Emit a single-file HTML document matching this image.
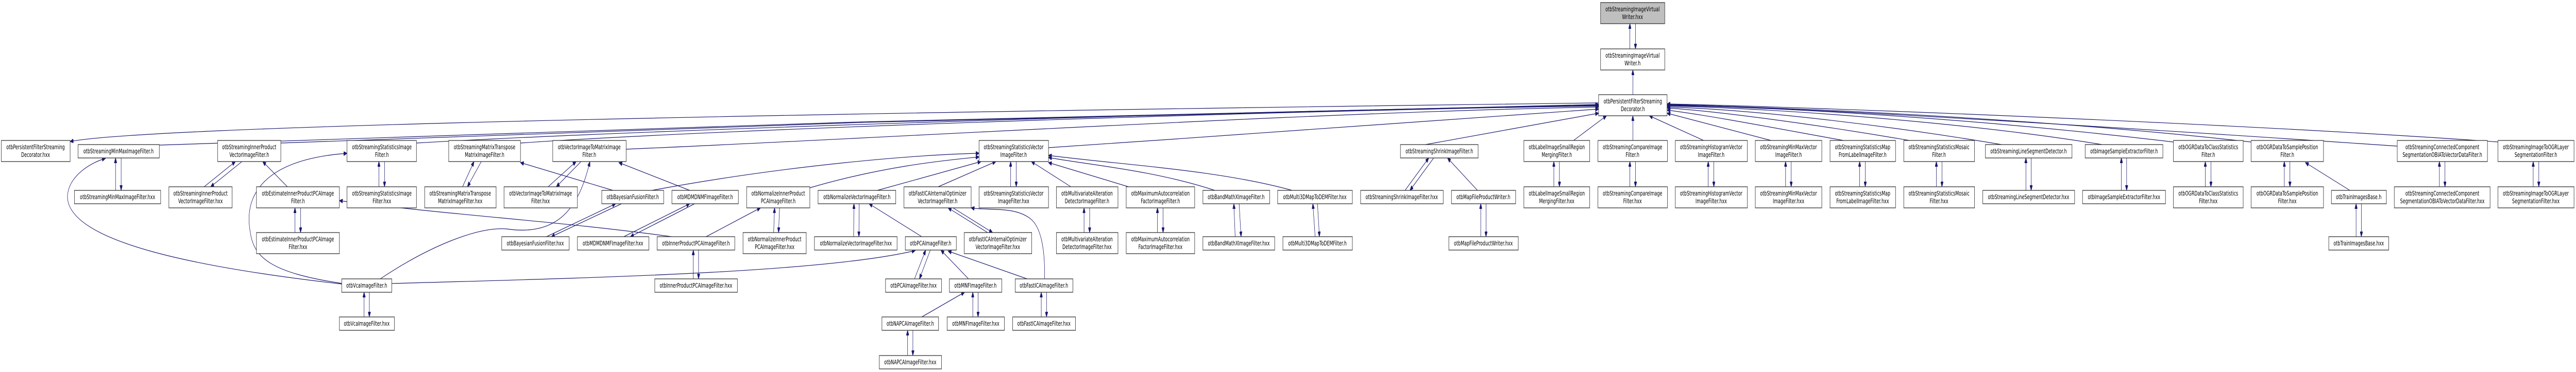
<!DOCTYPE html>
<html><head><meta charset="utf-8"><style>
html,body{margin:0;padding:0;background:#fff;overflow:hidden;width:100%;height:100%;}
svg{display:block;width:100vw;height:100vh;}
text{font-family:"DejaVu Sans","Liberation Sans",sans-serif;font-size:12.5px;fill:#000;text-anchor:middle;}
rect{fill:#fff;stroke:#333;stroke-width:1.3;}
rect.root{fill:#bfbfbf;}
path{fill:none;stroke:#191970;stroke-width:1.2;}
</style></head><body>
<svg viewBox="0 0 7825 723" preserveAspectRatio="none" xmlns="http://www.w3.org/2000/svg">
<defs><marker id="a" markerUnits="userSpaceOnUse" markerWidth="11" markerHeight="8" refX="10" refY="4" orient="auto"><path d="M0,0 L10,4 L0,8 z" style="fill:#191970;stroke:#191970"/></marker></defs>
<g marker-end="url(#a)">
<path d="M4951,95 L4951,46"/><path d="M4968,46 L4968,95"/>
<path d="M4960,184 L4960,136"/>
<path d="M351,370 L351,307"/><path d="M368,307 L368,370"/>
<path d="M620,363 L715,314"/><path d="M735,314 L640,363"/>
<path d="M1151,363 L1151,314"/><path d="M1168,314 L1168,363"/>
<path d="M1405,363 L1440,314"/><path d="M1462,314 L1420,363"/>
<path d="M1665,363 L1750,314"/><path d="M1765,314 L1690,363"/>
<path d="M896,452 L896,404"/><path d="M913,404 L913,452"/>
<path d="M1660,460 L1870,396"/><path d="M1888,396 L1675,460"/>
<path d="M1895,460 L2095,396"/><path d="M2110,396 L1915,460"/>
<path d="M2350,452 L2353,404"/><path d="M2368,404 L2365,452"/>
<path d="M2593,460 L2594,396"/><path d="M2610,396 L2609,460"/>
<path d="M3000,452 L2880,404"/><path d="M2895,404 L3015,452"/>
<path d="M3070,363 L3070,314"/><path d="M3087,314 L3087,363"/>
<path d="M3293,452 L3293,404"/><path d="M3310,404 L3310,452"/>
<path d="M3516,452 L3516,404"/><path d="M3533,404 L3533,452"/>
<path d="M3752,460 L3748,396"/><path d="M3764,396 L3770,460"/>
<path d="M3995,460 L3988,396"/><path d="M4002,396 L4008,460"/>
<path d="M4268,370 L4340,307"/><path d="M4355,307 L4283,370"/>
<path d="M4498,460 L4498,396"/><path d="M4514,396 L4514,460"/>
<path d="M2778,542 L2812,486"/><path d="M2826,486 L2793,542"/>
<path d="M2955,616 L2955,568"/><path d="M2971,568 L2971,616"/>
<path d="M3163,616 L3163,568"/><path d="M3179,568 L3179,616"/>
<path d="M1106,616 L1106,568"/><path d="M1122,568 L1122,616"/>
<path d="M2106,542 L2106,486"/><path d="M2122,486 L2122,542"/>
<path d="M2757,691 L2757,642"/><path d="M2773,642 L2773,691"/>
<path d="M4720,363 L4720,314"/><path d="M4737,314 L4737,363"/>
<path d="M4951,363 L4951,314"/><path d="M4968,314 L4968,363"/>
<path d="M5189,363 L5189,314"/><path d="M5206,314 L5206,363"/>
<path d="M5424,363 L5424,314"/><path d="M5441,314 L5441,363"/>
<path d="M5649,363 L5649,314"/><path d="M5666,314 L5666,363"/>
<path d="M5882,363 L5882,314"/><path d="M5899,314 L5899,363"/>
<path d="M6154,370 L6154,307"/><path d="M6170,307 L6170,370"/>
<path d="M6444,370 L6444,307"/><path d="M6460,307 L6460,370"/>
<path d="M6699,363 L6699,314"/><path d="M6716,314 L6716,363"/>
<path d="M6939,363 L6939,314"/><path d="M6956,314 L6956,363"/>
<path d="M7410,363 L7410,314"/><path d="M7427,314 L7427,363"/>
<path d="M7695,363 L7695,314"/><path d="M7712,314 L7712,363"/>
<path d="M7157,460 L7157,396"/><path d="M7173,396 L7173,460"/>
<path d="M4856,200 C3000,215 500,240 213,275"/>
<path d="M484,282 C1500,250 4000,215 4856,203"/>
<path d="M853,278 C2000,245 4000,212 4856,204"/>
<path d="M1265,278 C2000,250 4000,212 4856,205"/>
<path d="M1581,278 C2200,250 4000,213 4856,206"/>
<path d="M1902,290 C2800,265 4000,218 4856,208"/>
<path d="M3185,287 C3800,260 4500,230 4856,212"/>
<path d="M4330,281 L4856,220"/>
<path d="M4780,273 L4880,225"/>
<path d="M4960,273 L4960,225"/>
<path d="M5175,273 L5010,225"/>
<path d="M5380,273 L5064,220"/>
<path d="M5600,273 C5400,250 5200,225 5064,214"/>
<path d="M5800,273 C5500,240 5200,215 5064,210"/>
<path d="M6080,281 C5700,240 5300,212 5064,208"/>
<path d="M6385,281 C6000,240 5400,210 5064,206"/>
<path d="M6602,276 C6000,230 5400,208 5064,205"/>
<path d="M6838,276 C6200,230 5400,207 5064,204"/>
<path d="M7282,284 C6500,250 5500,210 5064,203"/>
<path d="M7590,276 C6800,240 5500,208 5064,202"/>
<path d="M1038,552 C600,520 200,470 205,380 C210,340 280,315 320,308"/>
<path d="M1040,551 C820,530 770,500 760,450 C740,380 800,310 1054,298"/>
<path d="M1155,542 C1300,480 1450,440 1540,445 C1700,460 1760,400 1792,314"/>
<path d="M1190,551 C1800,540 2500,530 2780,487"/>
<path d="M2040,460 C1700,430 1400,420 1031,390"/>
<path d="M2145,460 L2310,404"/>
<path d="M873,363 L798,314"/>
<path d="M1862,370 L1581,316"/>
<path d="M1980,370 C2400,320 2800,300 2974,298"/>
<path d="M2095,370 L1880,316"/>
<path d="M2460,365 C2700,320 2900,310 2974,305"/>
<path d="M2665,370 L2980,314"/>
<path d="M2850,363 L3025,314"/>
<path d="M2800,460 L2640,396"/>
<path d="M2942,542 L2858,486"/>
<path d="M3120,542 L2880,488"/>
<path d="M3173,542 C3175,480 3160,440 3130,425 C3080,400 3000,410 2950,404"/>
<path d="M2800,616 L2930,568"/>
<path d="M3253,363 L3133,314"/>
<path d="M3428,363 L3185,316"/>
<path d="M3690,370 C3500,330 3300,320 3185,306"/>
<path d="M3925,370 C3700,330 3400,320 3185,302"/>
<path d="M4488,370 L4397,307"/>
<path d="M7138,370 L7003,316"/>
</g>

<rect class="root" x="4862" y="5" width="195" height="41"/><text x="4959" y="22">otbStreamingImageVirtual</text><text x="4959" y="37">Writer.hxx</text>
<rect x="4862" y="95" width="195" height="41"/><text x="4959" y="112">otbStreamingImageVirtual</text><text x="4959" y="127">Writer.h</text>
<rect x="4856" y="184" width="208" height="41"/><text x="4960" y="201">otbPersistentFilterStreaming</text><text x="4960" y="216">Decorator.h</text>

<rect x="4" y="273" width="209" height="41"/><text x="108" y="290">otbPersistentFilterStreaming</text><text x="108" y="305">Decorator.hxx</text>
<rect x="237" y="281" width="247" height="26"/><text x="360" y="298">otbStreamingMinMaxImageFilter.h</text>
<rect x="661" y="273" width="192" height="41"/><text x="757" y="290">otbStreamingInnerProduct</text><text x="757" y="305">VectorImageFilter.h</text>
<rect x="1054" y="273" width="211" height="41"/><text x="1160" y="290">otbStreamingStatisticsImage</text><text x="1160" y="305">Filter.h</text>
<rect x="1363" y="273" width="218" height="41"/><text x="1472" y="290">otbStreamingMatrixTranspose</text><text x="1472" y="305">MatrixImageFilter.h</text>
<rect x="1679" y="273" width="223" height="41"/><text x="1790" y="290">otbVectorImageToMatrixImage</text><text x="1790" y="305">Filter.h</text>
<rect x="2974" y="273" width="211" height="41"/><text x="3079" y="290">otbStreamingStatisticsVector</text><text x="3079" y="305">ImageFilter.h</text>
<rect x="4254" y="281" width="236" height="26"/><text x="4372" y="298">otbStreamingShrinkImageFilter.h</text>
<rect x="4629" y="273" width="200" height="41"/><text x="4729" y="290">otbLabelImageSmallRegion</text><text x="4729" y="305">MergingFilter.h</text>
<rect x="4854" y="273" width="211" height="41"/><text x="4959" y="290">otbStreamingCompareImage</text><text x="4959" y="305">Filter.h</text>
<rect x="5089" y="273" width="219" height="41"/><text x="5198" y="290">otbStreamingHistogramVector</text><text x="5198" y="305">ImageFilter.h</text>
<rect x="5332" y="273" width="202" height="41"/><text x="5433" y="290">otbStreamingMinMaxVector</text><text x="5433" y="305">ImageFilter.h</text>
<rect x="5559" y="273" width="199" height="41"/><text x="5658" y="290">otbStreamingStatisticsMap</text><text x="5658" y="305">FromLabelImageFilter.h</text>
<rect x="5783" y="273" width="215" height="41"/><text x="5890" y="290">otbStreamingStatisticsMosaic</text><text x="5890" y="305">Filter.h</text>
<rect x="6031" y="281" width="263" height="26"/><text x="6162" y="298">otbStreamingLineSegmentDetector.h</text>
<rect x="6334" y="281" width="236" height="26"/><text x="6452" y="298">otbImageSampleExtractorFilter.h</text>
<rect x="6602" y="273" width="212" height="41"/><text x="6708" y="290">otbOGRDataToClassStatistics</text><text x="6708" y="305">Filter.h</text>
<rect x="6838" y="273" width="220" height="41"/><text x="6948" y="290">otbOGRDataToSamplePosition</text><text x="6948" y="305">Filter.h</text>
<rect x="7282" y="273" width="274" height="41"/><text x="7419" y="290">otbStreamingConnectedComponent</text><text x="7419" y="305">SegmentationOBIAToVectorDataFilter.h</text>
<rect x="7588" y="273" width="231" height="41"/><text x="7703" y="290">otbStreamingImageToOGRLayer</text><text x="7703" y="305">SegmentationFilter.h</text>

<rect x="226" y="370" width="262" height="26"/><text x="357" y="387">otbStreamingMinMaxImageFilter.hxx</text>
<rect x="513" y="363" width="192" height="41"/><text x="609" y="380">otbStreamingInnerProduct</text><text x="609" y="395">VectorImageFilter.hxx</text>
<rect x="779" y="363" width="252" height="41"/><text x="905" y="380">otbEstimateInnerProductPCAImage</text><text x="905" y="395">Filter.h</text>
<rect x="1054" y="363" width="211" height="41"/><text x="1160" y="380">otbStreamingStatisticsImage</text><text x="1160" y="395">Filter.hxx</text>
<rect x="1290" y="363" width="217" height="41"/><text x="1398" y="380">otbStreamingMatrixTranspose</text><text x="1398" y="395">MatrixImageFilter.hxx</text>
<rect x="1531" y="363" width="223" height="41"/><text x="1642" y="380">otbVectorImageToMatrixImage</text><text x="1642" y="395">Filter.hxx</text>
<rect x="1828" y="370" width="188" height="26"/><text x="1922" y="387">otbBayesianFusionFilter.h</text>
<rect x="2041" y="370" width="202" height="26"/><text x="2142" y="387">otbMDMDNMFImageFilter.h</text>
<rect x="2268" y="363" width="192" height="41"/><text x="2364" y="380">otbNormalizeInnerProduct</text><text x="2364" y="395">PCAImageFilter.h</text>
<rect x="2485" y="370" width="236" height="26"/><text x="2603" y="387">otbNormalizeVectorImageFilter.h</text>
<rect x="2746" y="363" width="204" height="41"/><text x="2848" y="380">otbFastICAInternalOptimizer</text><text x="2848" y="395">VectorImageFilter.h</text>
<rect x="2974" y="363" width="211" height="41"/><text x="3079" y="380">otbStreamingStatisticsVector</text><text x="3079" y="395">ImageFilter.hxx</text>
<rect x="3209" y="363" width="187" height="41"/><text x="3302" y="380">otbMultivariateAlteration</text><text x="3302" y="395">DetectorImageFilter.h</text>
<rect x="3421" y="363" width="208" height="41"/><text x="3525" y="380">otbMaximumAutocorrelation</text><text x="3525" y="395">FactorImageFilter.h</text>
<rect x="3654" y="370" width="203" height="26"/><text x="3755" y="387">otbBandMathXImageFilter.h</text>
<rect x="3881" y="370" width="227" height="26"/><text x="3994" y="387">otbMulti3DMapToDEMFilter.hxx</text>
<rect x="4133" y="370" width="251" height="26"/><text x="4258" y="387">otbStreamingShrinkImageFilter.hxx</text>
<rect x="4409" y="370" width="195" height="26"/><text x="4506" y="387">otbMapFileProductWriter.h</text>
<rect x="4629" y="363" width="200" height="41"/><text x="4729" y="380">otbLabelImageSmallRegion</text><text x="4729" y="395">MergingFilter.hxx</text>
<rect x="4854" y="363" width="211" height="41"/><text x="4959" y="380">otbStreamingCompareImage</text><text x="4959" y="395">Filter.hxx</text>
<rect x="5089" y="363" width="219" height="41"/><text x="5198" y="380">otbStreamingHistogramVector</text><text x="5198" y="395">ImageFilter.hxx</text>
<rect x="5332" y="363" width="202" height="41"/><text x="5433" y="380">otbStreamingMinMaxVector</text><text x="5433" y="395">ImageFilter.hxx</text>
<rect x="5559" y="363" width="199" height="41"/><text x="5658" y="380">otbStreamingStatisticsMap</text><text x="5658" y="395">FromLabelImageFilter.hxx</text>
<rect x="5783" y="363" width="215" height="41"/><text x="5890" y="380">otbStreamingStatisticsMosaic</text><text x="5890" y="395">Filter.hxx</text>
<rect x="6023" y="370" width="279" height="26"/><text x="6162" y="387">otbStreamingLineSegmentDetector.hxx</text>
<rect x="6326" y="370" width="252" height="26"/><text x="6452" y="387">otbImageSampleExtractorFilter.hxx</text>
<rect x="6602" y="363" width="212" height="41"/><text x="6708" y="380">otbOGRDataToClassStatistics</text><text x="6708" y="395">Filter.hxx</text>
<rect x="6838" y="363" width="220" height="41"/><text x="6948" y="380">otbOGRDataToSamplePosition</text><text x="6948" y="395">Filter.hxx</text>
<rect x="7082" y="370" width="167" height="26"/><text x="7165" y="387">otbTrainImagesBase.h</text>
<rect x="7273" y="363" width="291" height="41"/><text x="7419" y="380">otbStreamingConnectedComponent</text><text x="7419" y="395">SegmentationOBIAToVectorDataFilter.hxx</text>
<rect x="7588" y="363" width="231" height="41"/><text x="7703" y="380">otbStreamingImageToOGRLayer</text><text x="7703" y="395">SegmentationFilter.hxx</text>

<rect x="779" y="452" width="252" height="41"/><text x="905" y="469">otbEstimateInnerProductPCAImage</text><text x="905" y="484">Filter.hxx</text>
<rect x="1524" y="460" width="205" height="26"/><text x="1626" y="477">otbBayesianFusionFilter.hxx</text>
<rect x="1754" y="460" width="217" height="26"/><text x="1862" y="477">otbMDMDNMFImageFilter.hxx</text>
<rect x="1996" y="460" width="236" height="26"/><text x="2114" y="477">otbInnerProductPCAImageFilter.h</text>
<rect x="2257" y="452" width="192" height="41"/><text x="2353" y="469">otbNormalizeInnerProduct</text><text x="2353" y="484">PCAImageFilter.hxx</text>
<rect x="2474" y="460" width="251" height="26"/><text x="2600" y="477">otbNormalizeVectorImageFilter.hxx</text>
<rect x="2750" y="460" width="155" height="26"/><text x="2827" y="477">otbPCAImageFilter.h</text>
<rect x="2929" y="452" width="205" height="41"/><text x="3031" y="469">otbFastICAInternalOptimizer</text><text x="3031" y="484">VectorImageFilter.hxx</text>
<rect x="3209" y="452" width="187" height="41"/><text x="3302" y="469">otbMultivariateAlteration</text><text x="3302" y="484">DetectorImageFilter.hxx</text>
<rect x="3421" y="452" width="208" height="41"/><text x="3525" y="469">otbMaximumAutocorrelation</text><text x="3525" y="484">FactorImageFilter.hxx</text>
<rect x="3654" y="460" width="218" height="26"/><text x="3763" y="477">otbBandMathXImageFilter.hxx</text>
<rect x="3897" y="460" width="211" height="26"/><text x="4002" y="477">otbMulti3DMapToDEMFilter.h</text>
<rect x="4401" y="460" width="211" height="26"/><text x="4506" y="477">otbMapFileProductWriter.hxx</text>
<rect x="7074" y="460" width="182" height="26"/><text x="7165" y="477">otbTrainImagesBase.hxx</text>

<rect x="1038" y="542" width="152" height="26"/><text x="1114" y="559">otbVcaImageFilter.h</text>
<rect x="1989" y="542" width="251" height="26"/><text x="2114" y="559">otbInnerProductPCAImageFilter.hxx</text>
<rect x="2690" y="542" width="170" height="26"/><text x="2775" y="559">otbPCAImageFilter.hxx</text>
<rect x="2884" y="542" width="159" height="26"/><text x="2963" y="559">otbMNFImageFilter.h</text>
<rect x="3084" y="542" width="175" height="26"/><text x="3171" y="559">otbFastICAImageFilter.h</text>

<rect x="1031" y="616" width="167" height="26"/><text x="1114" y="633">otbVcaImageFilter.hxx</text>
<rect x="2679" y="616" width="172" height="26"/><text x="2765" y="633">otbNAPCAImageFilter.h</text>
<rect x="2877" y="616" width="174" height="26"/><text x="2964" y="633">otbMNFImageFilter.hxx</text>
<rect x="3076" y="616" width="191" height="26"/><text x="3171" y="633">otbFastICAImageFilter.hxx</text>
<rect x="2671" y="691" width="189" height="26"/><text x="2765" y="708">otbNAPCAImageFilter.hxx</text>
</svg>
</body></html>
